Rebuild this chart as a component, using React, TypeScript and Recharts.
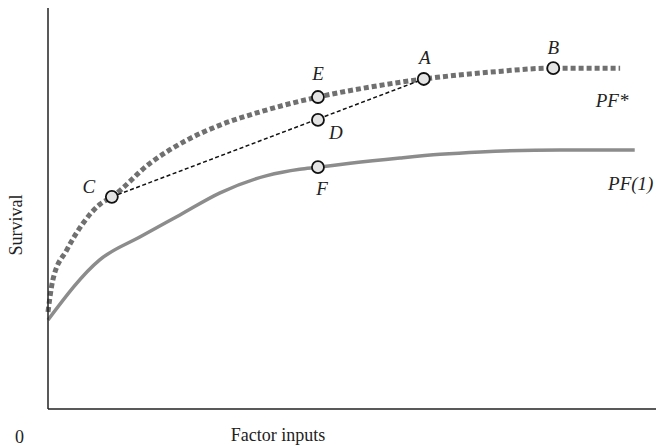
import { ComposedChart, Line, Scatter, XAxis, YAxis, LabelList } from "recharts"

// x: factor inputs (0-100), y: survival (0-100)
const pfStar = [
  { x: 0, y: 24.2 },
  { x: 0.8, y: 32.2 },
  { x: 3.1, y: 39.7 },
  { x: 5.8, y: 46.4 },
  { x: 8.5, y: 51.0 },
  { x: 10.5, y: 52.9 },
  { x: 16.8, y: 61.3 },
  { x: 22.9, y: 67.1 },
  { x: 28.3, y: 70.8 },
  { x: 34.9, y: 74.1 },
  { x: 44.4, y: 77.8 },
  { x: 53, y: 80.3 },
  { x: 61.8, y: 82.3 },
  { x: 72.7, y: 84.0 },
  { x: 83.1, y: 85.0 },
  { x: 94.1, y: 85.0 },
]

const pfOne = [
  { x: 0, y: 22.2 },
  { x: 8.5, y: 37.2 },
  { x: 15.1, y: 42.9 },
  { x: 21.7, y: 48.4 },
  { x: 28.3, y: 53.9 },
  { x: 36.0, y: 58.2 },
  { x: 41.4, y: 59.8 },
  { x: 44.4, y: 60.3 },
  { x: 49.7, y: 61.3 },
  { x: 57.9, y: 62.6 },
  { x: 64.5, y: 63.5 },
  { x: 71.1, y: 64.1 },
  { x: 84.2, y: 64.6 },
  { x: 96.5, y: 64.6 },
]

const chord = [
  { x: 10.5, y: 52.9 },
  { x: 61.8, y: 82.3 },
]

const points = [
  { name: "C", x: 10.5, y: 52.9 },
  { name: "E", x: 44.4, y: 77.8 },
  { name: "D", x: 44.4, y: 72.1 },
  { name: "A", x: 61.8, y: 82.3 },
  { name: "B", x: 83.1, y: 85.0 },
  { name: "F", x: 44.4, y: 60.3 },
]

const curveNames = ["PF*", "PF(1)"]

const FONT = "'Liberation Serif', 'DejaVu Serif', 'Times New Roman', serif"
const txt = { fontFamily: FONT }

const labelOffsets: Record<string, [number, number]> = {
  C: [-23, -4],
  E: [0, -17],
  D: [18, 19],
  A: [1, -15],
  B: [0, -14],
  F: [4, 28],
}

function Marker(props: any) {
  const { cx, cy } = props
  return <circle cx={cx} cy={cy} r={6} fill="#e4e4e4" stroke="#111" strokeWidth={1.8} />
}

function pointLabel(props: any) {
  const { x, y, width, height, value } = props
  const cx = x + (width || 0) / 2
  const cy = y + (height || 0) / 2
  const [dx, dy] = labelOffsets[value] || [0, 0]
  return (
    <text x={cx + dx} y={cy + dy} textAnchor="middle" style={{ ...txt, fontStyle: "italic", fontSize: 19 }} fill="#222">
      {value}
    </text>
  )
}

function endLabel(name: string, len: number, dx: number, dy: number) {
  return (props: any) => {
    if (props.index !== len - 1) return null
    return (
      <text x={props.x + dx} y={props.y + dy} textAnchor="middle" style={{ ...txt, fontStyle: "italic", fontSize: 19 }} fill="#222">
        {name}
      </text>
    )
  }
}

export default function App() {
  return (
    <div style={{ position: "absolute", left: 0, top: 0 }}>
      <ComposedChart width={656} height={446} margin={{ top: 8, right: 0, bottom: 0, left: 0 }}>
        <XAxis
          type="number"
          dataKey="x"
          domain={[0, 100]}
          ticks={[0]}
          tickLine={false}
          axisLine={{ stroke: "#222", strokeWidth: 1.5 }}
          height={37}
          tick={(p: any) => (
            <text x={p.x - 33} y={p.y + 26} style={{ ...txt, fontSize: 18 }} fill="#222">
              0
            </text>
          )}
          label={() => (
            <text x={278} y={441} textAnchor="middle" style={{ ...txt, fontSize: 18 }} fill="#222">
              Factor inputs
            </text>
          )}
        />
        <YAxis
          type="number"
          dataKey="y"
          domain={[0, 100]}
          tick={false}
          tickLine={false}
          axisLine={{ stroke: "#222", strokeWidth: 1.5 }}
          width={48}
          label={() => (
            <text x={22} y={225} textAnchor="middle" transform="rotate(-90 22 225)" style={{ ...txt, fontSize: 18 }} fill="#222">
              Survival
            </text>
          )}
        />
        <Line
          data={pfOne}
          dataKey="y"
          type="monotone"
          stroke="#8c8c8c"
          strokeWidth={3.5}
          dot={false}
          isAnimationActive={false}
        >
          <LabelList dataKey="y" content={endLabel(curveNames[1], pfOne.length, -4, 40)} />
        </Line>
        <Line
          data={pfStar}
          dataKey="y"
          type="monotone"
          stroke="#707070"
          strokeWidth={5}
          strokeDasharray="5 3"
          dot={false}
          isAnimationActive={false}
        >
          <LabelList dataKey="y" content={endLabel(curveNames[0], pfStar.length, -8, 39)} />
        </Line>
        <Line
          data={chord}
          dataKey="y"
          type="linear"
          stroke="#111"
          strokeWidth={1.5}
          strokeDasharray="4 2.5"
          dot={false}
          isAnimationActive={false}
        />
        <Scatter data={points} dataKey="y" shape={Marker} isAnimationActive={false}>
          <LabelList dataKey="name" content={pointLabel} />
        </Scatter>
      </ComposedChart>
    </div>
  )
}
